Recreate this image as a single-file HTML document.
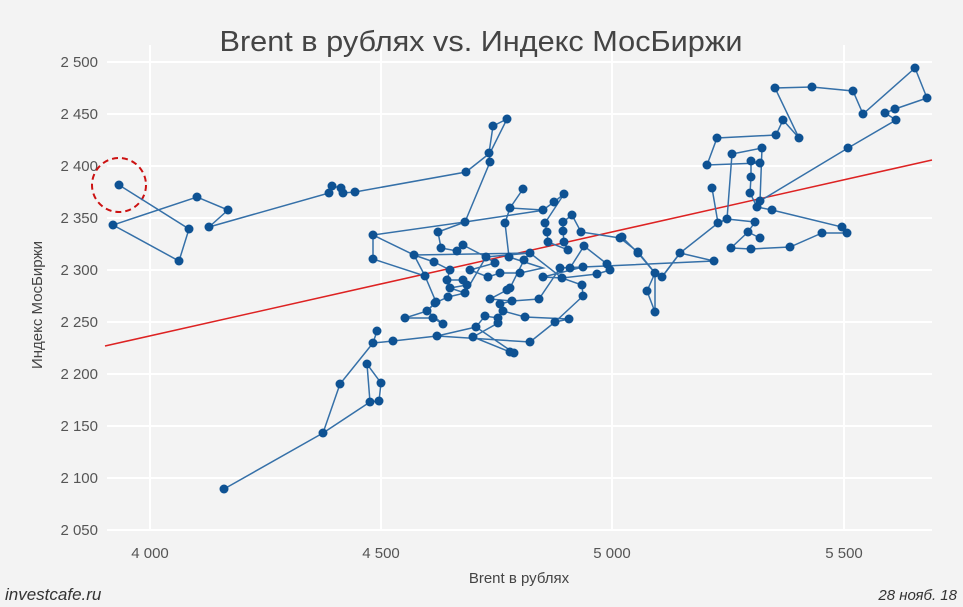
<!DOCTYPE html>
<html><head><meta charset="utf-8"><style>
html,body{margin:0;padding:0;background:#f3f3f3;}
svg{display:block;font-family:"Liberation Sans",sans-serif;}
</style></head><body>
<svg width="963" height="607" viewBox="0 0 963 607" xmlns="http://www.w3.org/2000/svg">
<rect width="963" height="607" fill="#f3f3f3"/>
<g stroke="#ffffff" stroke-width="2">
<line x1="107" y1="62" x2="932" y2="62"/><line x1="107" y1="114" x2="932" y2="114"/>
<line x1="107" y1="166" x2="932" y2="166"/><line x1="107" y1="218" x2="932" y2="218"/>
<line x1="107" y1="270" x2="932" y2="270"/><line x1="107" y1="322" x2="932" y2="322"/>
<line x1="107" y1="374" x2="932" y2="374"/><line x1="107" y1="426" x2="932" y2="426"/>
<line x1="107" y1="478" x2="932" y2="478"/><line x1="107" y1="530" x2="932" y2="530"/>
<line x1="150" y1="45" x2="150" y2="530"/><line x1="381" y1="45" x2="381" y2="530"/>
<line x1="612" y1="45" x2="612" y2="530"/><line x1="844" y1="45" x2="844" y2="530"/>
</g>
<text x="481" y="51" text-anchor="middle" font-size="29" fill="#444" textLength="523" lengthAdjust="spacingAndGlyphs">Brent в рублях vs. Индекс МосБиржи</text>
<g font-size="15" fill="#555" text-anchor="end">
<text x="98" y="67">2 500</text><text x="98" y="119">2 450</text><text x="98" y="171">2 400</text>
<text x="98" y="223">2 350</text><text x="98" y="275">2 300</text><text x="98" y="327">2 250</text>
<text x="98" y="379">2 200</text><text x="98" y="431">2 150</text><text x="98" y="483">2 100</text>
<text x="98" y="535">2 050</text>
</g>
<g font-size="15" fill="#555" text-anchor="middle">
<text x="150" y="558">4 000</text><text x="381" y="558">4 500</text>
<text x="612" y="558">5 000</text><text x="844" y="558">5 500</text>
</g>
<text x="519" y="583" text-anchor="middle" font-size="15" fill="#444">Brent в рублях</text>
<text transform="translate(42,305) rotate(-90)" text-anchor="middle" font-size="15" fill="#444">Индекс МосБиржи</text>
<text x="5" y="600" font-size="17" font-style="italic" fill="#333">investcafe.ru</text>
<text x="957" y="600" font-size="15" font-style="italic" fill="#333" text-anchor="end">28 нояб. 18</text>
<line x1="105" y1="346" x2="932" y2="160" stroke="#dd2222" stroke-width="1.5"/>
<circle cx="119" cy="185" r="27" fill="none" stroke="#cc1111" stroke-width="2" stroke-dasharray="6,4"/>
<g id="s" fill="none" stroke="#3570a8" stroke-width="1.5">
<polyline points="224,489 323,433 370,402 379,401 381,383 367,364 370,402 323,433 340,384 373,343 377,331 373,343 393,341 437,336 476,327 485,316 498,318 498,323 473,337 510,352 514,353 476,327 437,336 530,342 555,322 569,319 525,317 503,311 500,304 512,301 539,299 560,268 583,267 543,277 562,278 582,285 583,296 555,322"/>
<polyline points="405,318 433,318 443,324 427,311 436,302 425,276 373,259 373,235 465,222 490,162 489,153 493,126 507,119 490,153 466,172 355,192 343,193 341,188 332,186 329,193 209,227 228,210 197,197 113,225 179,261 189,229 119,185"/>
<polyline points="414,255 434,262 450,270 447,280 463,280 467,285 450,288 465,293 448,297 435,303 427,311 405,318"/>
<polyline points="438,232 441,248 457,251 463,245 486,257 495,263 470,270 488,277 500,273 520,273 543,268 509,257 505,223 510,208 523,189 510,208 543,210 554,202 564,194 545,223 547,232 548,242 568,250 564,242 563,231 563,222 572,215 581,232 620,238 638,252 655,273 647,291 655,312 655,273 662,277 680,253 714,261 583,267 570,268 584,246 607,264 610,270 597,274 562,278 530,253 524,260 510,288 507,290 490,299 512,301"/>
<polyline points="438,232 465,222 545,210 543,210"/>
<polyline points="414,255 530,253 486,257 465,293"/>
<polyline points="622,237 638,253 655,273 662,277 680,253 718,223 727,219 755,222 748,232 760,238 748,232 731,248 751,249 790,247 822,233 847,233 842,227 772,210 757,207 750,193 751,177 751,161 760,163 707,165 717,138 776,135 783,120 799,138 775,88 812,87 853,91 863,114 915,68 927,98 895,109 885,113 896,120 848,148 760,201 757,207"/>
<polyline points="712,188 718,223 727,219 732,154 762,148 760,201"/>
<polyline points="425,276 414,255 373,235"/>
</g>
<g fill="#0e5293">
<circle cx="224" cy="489" r="4.5"/><circle cx="323" cy="433" r="4.5"/><circle cx="370" cy="402" r="4.5"/><circle cx="379" cy="401" r="4.5"/><circle cx="381" cy="383" r="4.5"/><circle cx="367" cy="364" r="4.5"/><circle cx="340" cy="384" r="4.5"/><circle cx="373" cy="343" r="4.5"/><circle cx="377" cy="331" r="4.5"/><circle cx="393" cy="341" r="4.5"/><circle cx="437" cy="336" r="4.5"/><circle cx="476" cy="327" r="4.5"/><circle cx="485" cy="316" r="4.5"/><circle cx="498" cy="318" r="4.5"/><circle cx="498" cy="323" r="4.5"/><circle cx="473" cy="337" r="4.5"/><circle cx="510" cy="352" r="4.5"/><circle cx="514" cy="353" r="4.5"/><circle cx="530" cy="342" r="4.5"/><circle cx="555" cy="322" r="4.5"/><circle cx="569" cy="319" r="4.5"/><circle cx="525" cy="317" r="4.5"/><circle cx="503" cy="311" r="4.5"/><circle cx="500" cy="304" r="4.5"/><circle cx="512" cy="301" r="4.5"/><circle cx="539" cy="299" r="4.5"/><circle cx="560" cy="268" r="4.5"/><circle cx="583" cy="267" r="4.5"/><circle cx="543" cy="277" r="4.5"/><circle cx="562" cy="278" r="4.5"/><circle cx="582" cy="285" r="4.5"/><circle cx="583" cy="296" r="4.5"/>
<circle cx="405" cy="318" r="4.5"/><circle cx="433" cy="318" r="4.5"/><circle cx="443" cy="324" r="4.5"/><circle cx="427" cy="311" r="4.5"/><circle cx="436" cy="302" r="4.5"/><circle cx="425" cy="276" r="4.5"/><circle cx="373" cy="259" r="4.5"/><circle cx="373" cy="235" r="4.5"/><circle cx="465" cy="222" r="4.5"/><circle cx="490" cy="162" r="4.5"/><circle cx="489" cy="153" r="4.5"/><circle cx="493" cy="126" r="4.5"/><circle cx="507" cy="119" r="4.5"/><circle cx="466" cy="172" r="4.5"/><circle cx="355" cy="192" r="4.5"/><circle cx="343" cy="193" r="4.5"/><circle cx="341" cy="188" r="4.5"/><circle cx="332" cy="186" r="4.5"/><circle cx="329" cy="193" r="4.5"/><circle cx="209" cy="227" r="4.5"/><circle cx="228" cy="210" r="4.5"/><circle cx="197" cy="197" r="4.5"/><circle cx="113" cy="225" r="4.5"/><circle cx="179" cy="261" r="4.5"/><circle cx="189" cy="229" r="4.5"/><circle cx="119" cy="185" r="4.5"/>
<circle cx="414" cy="255" r="4.5"/><circle cx="434" cy="262" r="4.5"/><circle cx="450" cy="270" r="4.5"/><circle cx="447" cy="280" r="4.5"/><circle cx="463" cy="280" r="4.5"/><circle cx="467" cy="285" r="4.5"/><circle cx="450" cy="288" r="4.5"/><circle cx="465" cy="293" r="4.5"/><circle cx="448" cy="297" r="4.5"/><circle cx="435" cy="303" r="4.5"/>
<circle cx="438" cy="232" r="4.5"/><circle cx="441" cy="248" r="4.5"/><circle cx="457" cy="251" r="4.5"/><circle cx="463" cy="245" r="4.5"/><circle cx="486" cy="257" r="4.5"/><circle cx="495" cy="263" r="4.5"/><circle cx="470" cy="270" r="4.5"/><circle cx="488" cy="277" r="4.5"/><circle cx="500" cy="273" r="4.5"/><circle cx="520" cy="273" r="4.5"/><circle cx="509" cy="257" r="4.5"/><circle cx="505" cy="223" r="4.5"/><circle cx="510" cy="208" r="4.5"/><circle cx="523" cy="189" r="4.5"/><circle cx="543" cy="210" r="4.5"/><circle cx="554" cy="202" r="4.5"/><circle cx="564" cy="194" r="4.5"/><circle cx="545" cy="223" r="4.5"/><circle cx="547" cy="232" r="4.5"/><circle cx="548" cy="242" r="4.5"/><circle cx="568" cy="250" r="4.5"/><circle cx="564" cy="242" r="4.5"/><circle cx="563" cy="231" r="4.5"/><circle cx="563" cy="222" r="4.5"/><circle cx="572" cy="215" r="4.5"/><circle cx="581" cy="232" r="4.5"/><circle cx="620" cy="238" r="4.5"/><circle cx="638" cy="252" r="4.5"/><circle cx="655" cy="273" r="4.5"/><circle cx="647" cy="291" r="4.5"/><circle cx="655" cy="312" r="4.5"/><circle cx="662" cy="277" r="4.5"/><circle cx="680" cy="253" r="4.5"/><circle cx="714" cy="261" r="4.5"/><circle cx="570" cy="268" r="4.5"/><circle cx="584" cy="246" r="4.5"/><circle cx="607" cy="264" r="4.5"/><circle cx="610" cy="270" r="4.5"/><circle cx="597" cy="274" r="4.5"/><circle cx="530" cy="253" r="4.5"/><circle cx="524" cy="260" r="4.5"/><circle cx="510" cy="288" r="4.5"/><circle cx="507" cy="290" r="4.5"/><circle cx="490" cy="299" r="4.5"/>
<circle cx="622" cy="237" r="4.5"/><circle cx="638" cy="253" r="4.5"/><circle cx="718" cy="223" r="4.5"/><circle cx="727" cy="219" r="4.5"/><circle cx="755" cy="222" r="4.5"/><circle cx="748" cy="232" r="4.5"/><circle cx="760" cy="238" r="4.5"/><circle cx="731" cy="248" r="4.5"/><circle cx="751" cy="249" r="4.5"/><circle cx="790" cy="247" r="4.5"/><circle cx="822" cy="233" r="4.5"/><circle cx="847" cy="233" r="4.5"/><circle cx="842" cy="227" r="4.5"/><circle cx="772" cy="210" r="4.5"/><circle cx="757" cy="207" r="4.5"/><circle cx="750" cy="193" r="4.5"/><circle cx="751" cy="177" r="4.5"/><circle cx="751" cy="161" r="4.5"/><circle cx="760" cy="163" r="4.5"/><circle cx="707" cy="165" r="4.5"/><circle cx="717" cy="138" r="4.5"/><circle cx="776" cy="135" r="4.5"/><circle cx="783" cy="120" r="4.5"/><circle cx="799" cy="138" r="4.5"/><circle cx="775" cy="88" r="4.5"/><circle cx="812" cy="87" r="4.5"/><circle cx="853" cy="91" r="4.5"/><circle cx="863" cy="114" r="4.5"/><circle cx="915" cy="68" r="4.5"/><circle cx="927" cy="98" r="4.5"/><circle cx="895" cy="109" r="4.5"/><circle cx="885" cy="113" r="4.5"/><circle cx="896" cy="120" r="4.5"/><circle cx="848" cy="148" r="4.5"/><circle cx="760" cy="201" r="4.5"/><circle cx="712" cy="188" r="4.5"/><circle cx="732" cy="154" r="4.5"/><circle cx="762" cy="148" r="4.5"/>
</g>
</svg>
</body></html>
